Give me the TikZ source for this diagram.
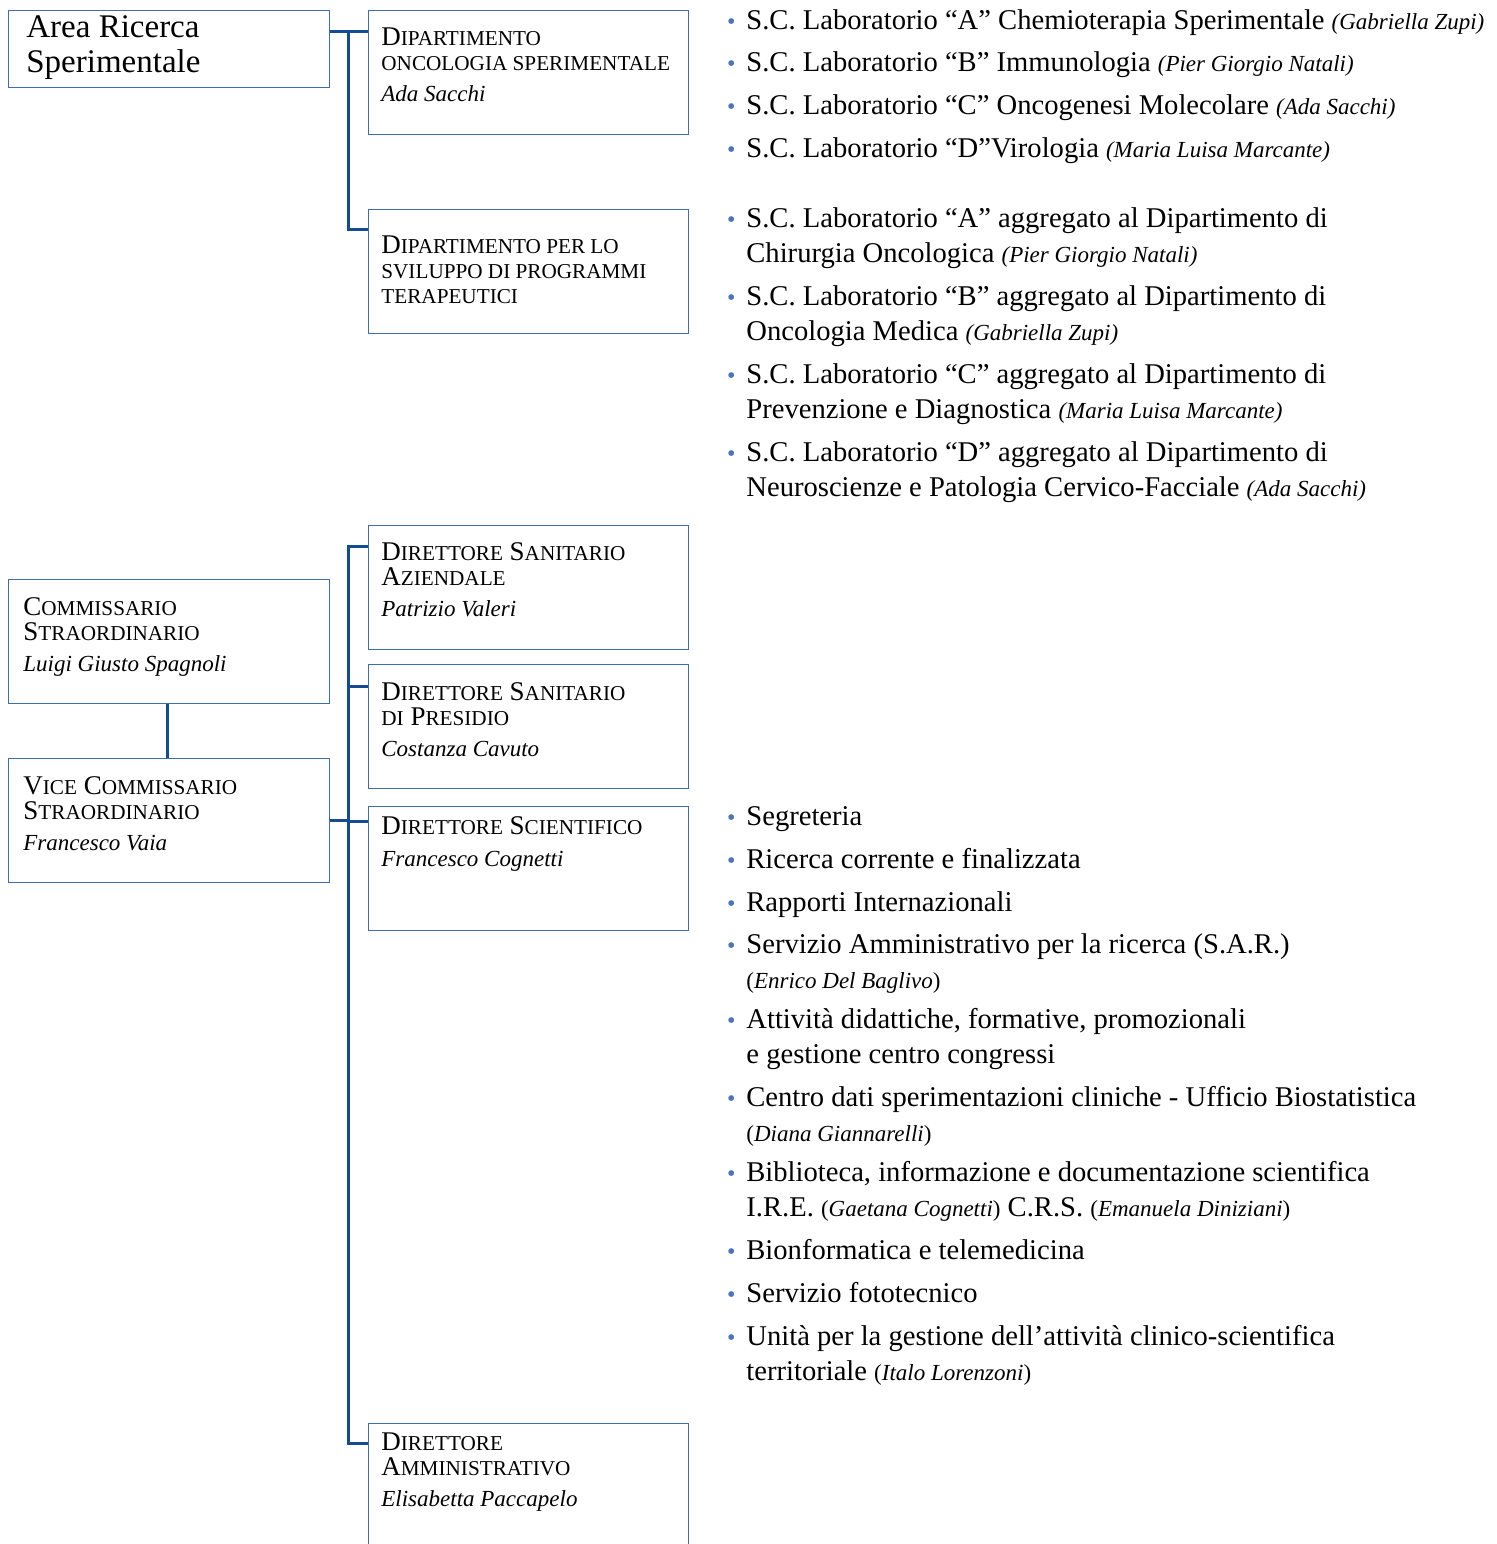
\documentclass[tikz,border=0pt]{standalone}
\usepackage{fontspec}
\setmainfont{Liberation Serif}
\usetikzlibrary{positioning}

\definecolor{boxblue}{HTML}{3F6DB3}
\definecolor{lineblue}{HTML}{144C94}
\definecolor{dotblue}{HTML}{4C73BD}

\newcommand\smc[1]{{\fontsize{10.6pt}{12.5pt}\selectfont #1}}
\newcommand\nm[1]{{\fontsize{11.5pt}{17.5pt}\selectfont\itshape #1}}
\newcommand\nmup[1]{{\fontsize{11.5pt}{17.5pt}\selectfont #1}}
\newcommand\bul{\llap{\textcolor{dotblue}{\fontsize{12pt}{12pt}\selectfont •}\hspace{5.4pt}}}

\tikzset{
    box/.style={draw=boxblue, line width=0.7pt, fill=white, inner sep=0, anchor=north west,
        minimum width=160pt, minimum height=62pt},
    title/.style={anchor=base west, align=left, inner sep=0, font=\fontsize{13.5pt}{12.5pt}\selectfont},
    item/.style={anchor=base west, align=left, inner sep=0, font=\fontsize{14.3pt}{17.5pt}\selectfont},
    conn/.style={draw=lineblue, line width=1.5pt},
}

\begin{document}
\begin{tikzpicture}[x=0.5pt, y=-0.5pt]
        \useasboundingbox (0,0) rectangle (1497,1544);

        % area ricerca
        \node[box, minimum width=160.5pt, minimum height=38.5pt] (area) at (8,10) {};
        \node[anchor=base west, align=left, inner sep=0, font=\fontsize{16.5pt}{17.5pt}\selectfont] (t-area) at (26,72) {Area Ricerca\\Sperimentale};

        \node[box] (dso) at (368,10) {};
        \node[title] (t-dso) at (381,101) {D\smc{IPARTIMENTO}\\\smc{ONCOLOGIA SPERIMENTALE}\\[3pt]\nm{Ada Sacchi}};
        \node[box] (dsp) at (368,209) {};
        \node[title] (t-dsp) at (381,303) {D\smc{IPARTIMENTO PER LO}\\\smc{SVILUPPO DI PROGRAMMI}\\\smc{TERAPEUTICI}};

        \coordinate (sp1) at (348,31);
        \draw[conn] (area.east |- sp1) -- (dso.west |- sp1);
        \draw[conn] (sp1) |- (dsp.west |- 0,229);

        \node[item] (l1a) at (746,29) {\bul S.C. Laboratorio “A” Chemioterapia Sperimentale \nm{(Gabriella Zupi)}};
        \node[item] (l1b) at (746,71) {\bul S.C. Laboratorio “B” Immunologia \nm{(Pier Giorgio Natali)}};
        \node[item] (l1c) at (746,114) {\bul S.C. Laboratorio “C” Oncogenesi Molecolare \nm{(Ada Sacchi)}};
        \node[item] (l1d) at (746,157) {\bul S.C. Laboratorio “D”Virologia \nm{(Maria Luisa Marcante)}};

        \node[item] (l2a) at (746,262) {\bul S.C. Laboratorio “A” aggregato al Dipartimento di\\Chirurgia Oncologica \nm{(Pier Giorgio Natali)}};
        \node[item] (l2b) at (746,340) {\bul S.C. Laboratorio “B” aggregato al Dipartimento di\\Oncologia Medica \nm{(Gabriella Zupi)}};
        \node[item] (l2c) at (746,418) {\bul S.C. Laboratorio “C” aggregato al Dipartimento di\\Prevenzione e Diagnostica \nm{(Maria Luisa Marcante)}};
        \node[item] (l2d) at (746,496) {\bul S.C. Laboratorio “D” aggregato al Dipartimento di\\Neuroscienze e Patologia Cervico-Facciale \nm{(Ada Sacchi)}};

        % vertici
        \node[box, minimum width=160.5pt] (comm) at (8,579) {};
        \node[title] (t-comm) at (23,671) {C\smc{OMMISSARIO}\\S\smc{TRAORDINARIO}\\[3pt]\nm{Luigi Giusto Spagnoli}};
        \node[box, minimum width=160.5pt] (vice) at (8,758) {};
        \node[title] (t-vice) at (23,850) {V\smc{ICE} C\smc{OMMISSARIO}\\S\smc{TRAORDINARIO}\\[3pt]\nm{Francesco Vaia}};

        \node[box] (dsa) at (368,525) {};
        \node[title] (t-dsa) at (381,616) {D\smc{IRETTORE} S\smc{ANITARIO}\\A\smc{ZIENDALE}\\[3pt]\nm{Patrizio Valeri}};
        \node[box] (dsd) at (368,664) {};
        \node[title] (t-dsd) at (381,756) {D\smc{IRETTORE} S\smc{ANITARIO}\\\smc{DI} P\smc{RESIDIO}\\[3pt]\nm{Costanza Cavuto}};
        \node[box] (dsc) at (368,806) {};
        \node[title] (t-dsc) at (381,866) {D\smc{IRETTORE} S\smc{CIENTIFICO}\\[3.5pt]\nm{Francesco Cognetti}};
        \node[box] (dam) at (368,1423) {};
        \node[title] (t-dam) at (381,1506) {D\smc{IRETTORE}\\A\smc{MMINISTRATIVO}\\[3pt]\nm{Elisabetta Paccapelo}};

        \coordinate (sp2) at (348,546);
        \coordinate (sp3) at (348,1443);
        \draw[conn] (comm.south -| 167,0) -- (vice.north -| 167,0);
        \draw[conn] (vice.east) -- (vice.east -| sp2);
        \draw[conn] (dsa.west |- sp2) -| (sp3) -- (dam.west |- sp3);
        \draw[conn] (sp2 |- 0,686) -- (dsd.west |- 0,686);
        \draw[conn] (sp2 |- 0,821) -- (dsc.west |- 0,821);

        \node[item] (l3a) at (746,825) {\bul Segreteria};
        \node[item] (l3b) at (746,868) {\bul Ricerca corrente e finalizzata};
        \node[item] (l3c) at (746,911) {\bul Rapporti Internazionali};
        \node[item] (l3d) at (746,988) {\bul Servizio Amministrativo per la ricerca (S.A.R.)\\\nmup{(\textit{Enrico Del Baglivo})}};
        \node[item] (l3e) at (746,1063) {\bul Attività didattiche, formative, promozionali\\e gestione centro congressi};
        \node[item] (l3f) at (746,1141) {\bul Centro dati sperimentazioni cliniche - Ufficio Biostatistica\\\nmup{(\textit{Diana Giannarelli})}};
        \node[item] (l3g) at (746,1216) {\bul Biblioteca, informazione e documentazione scientifica\\I.R.E. \nmup{(\textit{Gaetana Cognetti})} C.R.S. \nmup{(\textit{Emanuela Diniziani})}};
        \node[item] (l3h) at (746,1259) {\bul Bionformatica e telemedicina};
        \node[item] (l3i) at (746,1302) {\bul Servizio fototecnico};
        \node[item] (l3j) at (746,1380) {\bul Unità per la gestione dell’attività clinico-scientifica\\territoriale \nmup{(\textit{Italo Lorenzoni})}};

\end{tikzpicture}
\end{document}
